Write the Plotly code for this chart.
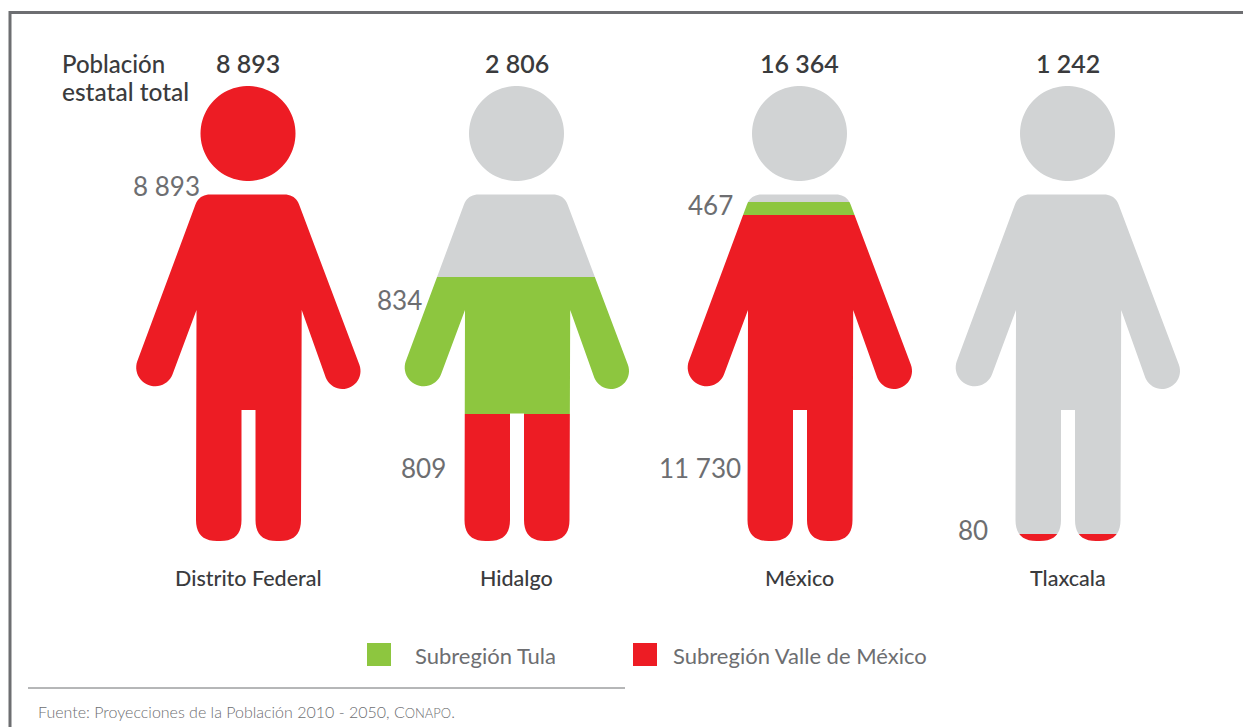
import math
import plotly.graph_objects as go

# ---- data ----
states = ["Distrito Federal", "Hidalgo", "México", "Tlaxcala"]
totals = [8893, 2806, 16364, 1242]
tula = [0, 834, 467, 0]
valle = [8893, 809, 11730, 80]
# Heights as actually drawn in the pictogram
tula_drawn = [0, 842, 467, 0]
valle_drawn = [8893, 786, 11730, 19]
total_labels = ["8 893", "2 806", "16 364", "1 242"]
legend_labels = ["Subregión Tula", "Subregión Valle de México"]

# ---- style / layout ----
W, H = 1243, 727
RED, GREEN, GREY = "#ed1c24", "#8dc63f", "#d1d3d4"
DARK, MID = "#3a3b3d", "#6d6e71"
FONT = "Lato"
centers = [248, 516.5, 799.5, 1067.5]
crotch_px = [410, 413.5, 410, 410]
BASE_PX, TOP_PX = 541, 86


def yv(py):
    return (BASE_PX - py) / (BASE_PX - TOP_PX)


def arc(cx, cy, r, a0, a1, n=24):
    return [(cx + r * math.cos(math.radians(a0 + (a1 - a0) * i / n)),
             cy + r * math.sin(math.radians(a0 + (a1 - a0) * i / n))) for i in range(n + 1)]


def corner(p0, p, p1, d, n=10):
    """Rounded corner at p between neighbours p0, p1 (offset d along edges)."""
    def toward(a, b, dist):
        L = math.hypot(b[0] - a[0], b[1] - a[1])
        return (a[0] + (b[0] - a[0]) * dist / L, a[1] + (b[1] - a[1]) * dist / L)
    s, e = toward(p, p0, d), toward(p, p1, d)
    out = []
    for i in range(n + 1):
        t = i / n
        out.append(((1 - t) ** 2 * s[0] + 2 * t * (1 - t) * p[0] + t * t * e[0],
                    (1 - t) ** 2 * s[1] + 2 * t * (1 - t) * p[1] + t * t * e[1]))
    return out


def body_outline(crotch):
    # outline in picture pixels, relative to a figure centred at x=248
    pts = []
    tl, tr = (199.2, 194.5), (295.3, 194.5)
    pts += corner((160, 300), tl, tr, 11)
    pts += corner(tl, tr, (359.5, 365), 11)
    pts += arc(342.5, 371, 18, -20, 158)
    pts.append((301.7, 310))
    bl_r, br_r = (255.5, 541), (301, 541)
    pts += corner((301, 320), br_r, bl_r, 21)
    pts += corner(br_r, bl_r, (255.5, 410), 21)
    pts += [(255.5, crotch), (241.5, crotch)]
    bl_l, br_l = (196, 541), (241.5, 541)
    pts += corner((241.5, 410), br_l, bl_l, 21)
    pts += corner(br_l, bl_l, (196, 320), 21)
    pts.append((196.5, 310))
    pts += arc(155, 367.5, 18.8, 21.7, 199.3)
    return pts


def to_path(pts, dx):
    return "M" + "L".join(f"{x + dx:.2f},{yv(y):.5f}" for x, y in pts) + "Z"


fig = go.Figure()
shares_valle = [v / t for v, t in zip(valle_drawn, totals)]
shares_tula = [v / t for v, t in zip(tula_drawn, totals)]
shares_rest = [1 - a - b for a, b in zip(shares_valle, shares_tula)]
BAR_W = 232
for name, vals, col in [(legend_labels[1], shares_valle, RED),
                        (legend_labels[0], shares_tula, GREEN),
                        ("Resto de la población", shares_rest, GREY)]:
    fig.add_trace(go.Bar(x=centers, y=vals, name=name, width=BAR_W,
                         marker=dict(color=col, line=dict(width=0)),
                         customdata=states, showlegend=False,
                         hovertemplate="%{customdata}<extra>" + name + "</extra>"))

shapes = []
head = arc(248, 133.5, 47.5, 0, 360, 90)[:-1]
for c, cr in zip(centers, crotch_px):
    dx = c - 248
    body = body_outline(cr)
    # white mask with person-shaped holes, over the stacked bar
    L, R = c - BAR_W / 2 - 2, c + BAR_W / 2 + 2
    frame = f"M{L},{yv(78)}L{R},{yv(78)}L{R},{yv(549)}L{L},{yv(549)}Z"
    shapes.append(dict(type="path", xref="x", yref="y", layer="above",
                       path=frame + to_path(head, dx) + to_path(body, dx),
                       fillcolor="white", fillrule="evenodd", line=dict(width=0)))

# frame and rule
shapes.append(dict(type="line", xref="x", yref="y", x0=10, x1=10, y0=yv(11), y1=yv(727),
                   line=dict(color=MID, width=3), layer="above"))
shapes.append(dict(type="line", xref="x", yref="y", x0=9, x1=1243, y0=yv(12.5), y1=yv(12.5),
                   line=dict(color=MID, width=3), layer="above"))
shapes.append(dict(type="line", xref="x", yref="y", x0=28, x1=625, y0=yv(688), y1=yv(688),
                   line=dict(color=MID, width=1), layer="above"))
# legend swatches
for x0, col in [(367, GREEN), (633, RED)]:
    shapes.append(dict(type="rect", xref="x", yref="y", x0=x0, x1=x0 + 24, y0=yv(643), y1=yv(666),
                       fillcolor=col, line=dict(width=0), layer="above"))


def note(text, x, py, size, color=MID, anchor="left", weight=400):
    shift = {"left": -2, "right": 2, "center": 0}[anchor]
    return dict(text=text, x=x + shift, y=yv(py), xref="x", yref="y", showarrow=False,
                xanchor=anchor, yanchor="middle",
                font=dict(family=FONT, size=size, color=color, weight=weight))


ann = [note("Población", 62, 63, 24, DARK, weight=500),
       note("estatal total", 62, 91.5, 24.5, DARK, weight=500)]
for c, lab, st in zip(centers, total_labels, states):
    ann.append(note(lab, c, 63, 25, DARK, "center", 600))
    ann.append(note(st, c, 577.5, 21.5, DARK, "center", 500))

ann += [
    note(f"{valle[0]:,}".replace(",", " "), 200, 186, 26, MID, "right"),
    note(f"{tula[1]}", 422, 299.5, 26, MID, "right"),
    note(f"{valle[1]}", 446, 468, 26, MID, "right"),
    note(f"{tula[2]}", 733, 204.5, 26, MID, "right"),
    note(f"{valle[2]:,}".replace(",", " "), 741, 468, 26, MID, "right"),
    note(f"{valle[3]}", 988, 529.5, 26, MID, "right"),
    note(legend_labels[0], 415, 655, 22, MID),
    note(legend_labels[1], 673, 655, 22, MID),
    note('Fuente: Proyecciones de la Población 2010 - 2050, C<span style="font-size:13px">ONAPO</span>.',
         38, 711.5, 16, MID, weight=300),
]

fig.update_layout(
    width=W, height=H, margin=dict(l=0, r=0, t=0, b=0),
    paper_bgcolor="white", plot_bgcolor="white",
    barmode="stack", bargap=0, showlegend=False,
    xaxis=dict(range=[0, W], visible=False, fixedrange=True),
    yaxis=dict(range=[yv(H), yv(0)], visible=False, fixedrange=True),
    shapes=shapes, annotations=ann,
)
fig.write_html("out.html", config=dict(displayModeBar=False),
               post_script="document.body.style.margin='0';document.body.style.overflow='hidden';")
